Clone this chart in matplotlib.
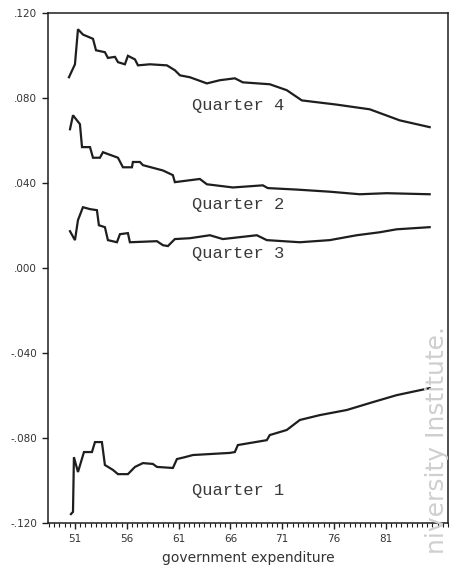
import numpy as np
from matplotlib import pyplot as plt
from matplotlib.ticker import MultipleLocator

# recursive estimates (x = year)
q4_x = [50.42, 51.0, 51.29, 51.77, 52.74, 53.03, 53.89, 54.18, 54.86, 55.15, 55.82, 56.11,
        56.79, 57.08, 58.23, 59.87, 60.64, 61.13, 62.09, 63.73, 64.98, 66.43, 67.2, 69.8,
        71.44, 72.89, 76.27, 79.45, 82.34, 85.23]
q4_y = [0.0899, 0.096, 0.1125, 0.110, 0.108, 0.1026, 0.1017, 0.099, 0.0995, 0.097, 0.096, 0.100,
        0.0983, 0.0955, 0.096, 0.0955, 0.0932, 0.0908, 0.0899, 0.087, 0.0885, 0.0894, 0.0875, 0.0866,
        0.0838, 0.079, 0.077, 0.0748, 0.0696, 0.0664]

q2_x = [50.52, 50.81, 51.48, 51.68, 52.45, 52.74, 53.41, 53.7, 55.15, 55.63, 56.5, 56.59,
        57.27, 57.56, 59.49, 60.45, 60.64, 63.05, 63.73, 66.24, 69.13, 69.61, 72.41, 75.59,
        78.48, 81.09, 85.23]
q2_y = [0.0654, 0.072, 0.0678, 0.057, 0.057, 0.052, 0.052, 0.0546, 0.052, 0.0475, 0.0475, 0.050,
        0.050, 0.0485, 0.046, 0.0438, 0.0405, 0.042, 0.0395, 0.038, 0.039, 0.0377, 0.037, 0.036,
        0.0348, 0.0353, 0.0348]

q3_x = [50.52, 51.0, 51.29, 51.77, 52.45, 53.12, 53.31, 53.89, 54.18, 55.05, 55.34, 56.11,
        56.3, 58.91, 59.49, 59.97, 60.64, 62.09, 64.02, 65.27, 68.55, 69.51, 72.7, 75.59,
        78.19, 80.41, 82.05, 85.23]
q3_y = [0.0174, 0.0132, 0.0226, 0.0287, 0.0278, 0.0273, 0.0202, 0.0193, 0.0132, 0.0122, 0.016, 0.0165,
        0.0122, 0.0127, 0.0108, 0.0104, 0.0137, 0.0141, 0.0155, 0.0137, 0.0155, 0.0132, 0.0122, 0.0132,
        0.0155, 0.0169, 0.0183, 0.0193]

q1_x = [50.61, 50.81, 50.9, 51.29, 51.87, 52.64, 52.93, 53.6, 53.89, 54.66, 55.15, 56.11,
        56.79, 57.56, 58.52, 58.91, 60.45, 60.84, 61.61, 62.38, 65.95, 66.43, 66.72, 69.51,
        69.8, 71.44, 72.7, 74.63, 77.23, 79.74, 82.05, 85.23]
q1_y = [-0.1158, -0.1148, -0.089, -0.096, -0.0866, -0.0866, -0.0819, -0.0819, -0.0927, -0.095, -0.097, -0.097,
        -0.0936, -0.0918, -0.0922, -0.0936, -0.0941, -0.0899, -0.089, -0.088, -0.087, -0.0866, -0.0833, -0.081,
        -0.0786, -0.0762, -0.0715, -0.0692, -0.0668, -0.0631, -0.0598, -0.0565]

labels = ["Quarter 4", "Quarter 2", "Quarter 3", "Quarter 1"]
label_y = [0.0767, 0.0301, 0.0068, -0.1045]

yticks = [0.12, 0.08, 0.04, 0.0, -0.04, -0.08, -0.12]
yticklabels = [".120", ".080", ".040", ".000", "-.040", "-.080", "-.120"]
xticks = [51, 56, 61, 66, 71, 76, 81]

ink = "#1e1e1e"

fig = plt.figure(figsize=(4.53, 5.72), dpi=100)
ax = fig.add_axes([0.106, 0.0857, 0.883, 0.891])

for xs, ys in [(q4_x, q4_y), (q2_x, q2_y), (q3_x, q3_y), (q1_x, q1_y)]:
    ax.plot(xs, ys, color=ink, lw=1.6, solid_joinstyle="miter")

for lab, ly in zip(labels, label_y):
    ax.text(62.25, ly, lab, family="Liberation Mono", fontsize=12.3, color="#3a3a3a",
            va="center", ha="left")

ax.set_xlim(48.4, 87.0)
ax.set_ylim(-0.12, 0.12)
ax.set_yticks(yticks)
ax.set_yticklabels(yticklabels)
ax.set_xticks(xticks)
ax.set_xticklabels([str(t) for t in xticks])
ax.xaxis.set_minor_locator(MultipleLocator(0.5))
ax.tick_params(axis="both", which="major", direction="out", length=4, width=1,
               color=ink, labelsize=7.5, labelcolor="#333333", pad=4)
ax.tick_params(axis="x", which="minor", direction="out", length=3, width=0.8, color=ink)
ax.set_xlabel("government expenditure", fontsize=10, color="#333333", labelpad=5)

for s in ax.spines.values():
    s.set_color(ink)
    s.set_linewidth(1.1)

# scanner watermark along the right edge
fig.text(0.965, 0.43, "niversity Institute.", rotation=90, ha="center", va="top",
         fontsize=18, color="#cfcfcf", family="DejaVu Sans")

fig.savefig("out.png", dpi=100)
